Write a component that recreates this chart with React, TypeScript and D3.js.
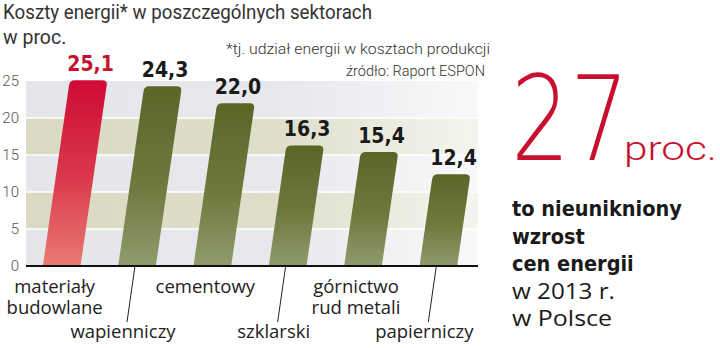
import React from 'react';
import * as d3 from 'd3';

// ---------- data ----------
const categories = ['materiały budowlane', 'wapienniczy', 'cementowy', 'szklarski', 'górnictwo rud metali', 'papierniczy'];
const values = [25.1, 24.3, 22.0, 16.3, 15.4, 12.4];
const highlighted = ['materiały budowlane'];
const labelLines = [['materiały', 'budowlane'], ['wapienniczy'], ['cementowy'], ['szklarski'], ['górnictwo', 'rud metali'], ['papierniczy']];
const labelLow = [false, true, false, true, false, true];
const yTicks = [0, 5, 10, 15, 20, 25];
const titleLines = ['Koszty energii* w poszczególnych sektorach', 'w proc.'];
const footnote = '*tj. udział energii w kosztach produkcji';
const source = 'źródło: Raport ESPON';
const bigNumber = '27';
const bigUnit = 'proc.';
const sideLines = ['to nieunikniony', 'wzrost', 'cen energii', 'w 2013 r.', 'w Polsce'];
const sideBold = [true, true, true, false, false];

// ---------- layout ----------
const W = 720, H = 348;
const plotL = 26, plotR = 478, y0 = 266, y25 = 81;
const slant = 0.145;
const RED = '#c8102e';
const DARK = '#222';
const condBold = "'DejaVu Sans Condensed', 'DejaVu Sans', sans-serif";
const sans = "Roboto, 'Open Sans', sans-serif";
const open = "'Open Sans', Roboto, sans-serif";

const pl = d3.formatLocale({ decimal: ',', thousands: ' ', grouping: [3], currency: ['', ' zł'] });
const fmt = pl.format('.1f');

function barPath(x0: number, w: number, yb: number, yt: number, k: number, r: number) {
  const s = (yb - yt) * k;
  const xl = x0 + s, xr = x0 + w + s;
  return `M${x0},${yb} L${xl - k * r},${yt + r} Q${xl},${yt} ${xl + r},${yt} L${xr - r},${yt} Q${xr},${yt} ${xr - k * r},${yt + r} L${x0 + w},${yb} Z`;
}

export default function App() {
  const x = d3.scaleBand<string>().domain(categories).range([24, 476]).paddingInner(0.5).paddingOuter(0.25);
  const y = d3.scaleLinear().domain([0, 25]).range([y0, y25]);
  const bw = x.bandwidth();

  const bands = d3.range(0, 5).map(i => ({ lo: yTicks[i], hi: yTicks[i + 1], tint: i % 2 === 1 }));

  return (
    <svg width={W} height={H} style={{ position: 'absolute', left: 0, top: 0, background: '#fff' }}>
      <defs>
        <linearGradient id="gRed" x1="0" y1="0" x2="0" y2="1">
          <stop offset="0" stopColor="#cf0b36" />
          <stop offset="0.5" stopColor="#d9364a" />
          <stop offset="1" stopColor="#ea7a72" />
        </linearGradient>
        <linearGradient id="gOlive" x1="0" y1="0" x2="0" y2="1">
          <stop offset="0" stopColor="#5a6628" />
          <stop offset="0.55" stopColor="#6e793e" />
          <stop offset="1" stopColor="#909a6c" />
        </linearGradient>
        <linearGradient id="gFade" x1="0" y1="0" x2="1" y2="0">
          <stop offset="0" stopColor="#fff" stopOpacity="0" />
          <stop offset="0.55" stopColor="#fff" stopOpacity="0.1" />
          <stop offset="1" stopColor="#fff" stopOpacity="0.75" />
        </linearGradient>
      </defs>

      {/* background bands */}
      {bands.map((b, i) => (
        <rect key={i} x={plotL} y={y(b.hi)} width={plotR - plotL} height={y(b.lo) - y(b.hi)}
          fill={b.tint ? '#dadac4' : '#e4e6ea'} />
      ))}
      <rect x={plotL} y={y(25)} width={plotR - plotL} height={y(0) - y(25)} fill="url(#gFade)" />
      {yTicks.filter(t => t > 0 && t < 25).map(t => (
        <line key={t} x1={plotL} x2={plotR} y1={y(t)} y2={y(t)} stroke="#fff" strokeWidth={1.6} />
      ))}

      {/* y tick labels */}
      {yTicks.map(t => (
        <text key={t} x={19} y={y(t)} dy="0.35em" textAnchor="end" fontFamily={sans} fontWeight={300}
          fontSize={15} fill="#555">{t}</text>
      ))}

      {/* bars */}
      {categories.map((c, i) => {
        const x0 = x(c)!;
        const yt = y(values[i]);
        const s = (y0 - yt) * slant;
        const hi = highlighted.includes(c);
        return (
          <g key={c}>
            <path d={barPath(x0, bw, y0, yt, slant, 5)} fill={hi ? 'url(#gRed)' : 'url(#gOlive)'} />
            <text x={x0 + bw / 2 + s + 2} y={yt - 9} textAnchor="middle" fontFamily={condBold}
              fontStretch="condensed" fontWeight="bold" fontSize={21} fill={hi ? RED : '#1a1a1a'}>
              {fmt(values[i])}
            </text>
          </g>
        );
      })}

      {/* baseline */}
      <line x1={plotL} x2={plotR} y1={y0} y2={y0} stroke="#111" strokeWidth={2} />

      {/* category labels */}
      {categories.map((c, i) => {
        const cx = x(c)! + bw / 2;
        if (labelLow[i]) {
          return (
            <g key={c}>
              <line x1={cx - 2} y1={y0} x2={cx - 10} y2={322} stroke="#222" strokeWidth={1} />
              <text x={cx - 14} y={338} textAnchor="middle" fontFamily={open} fontSize={18.5} fill={DARK}>
                {labelLines[i][0]}
              </text>
            </g>
          );
        }
        return (
          <text key={c} x={cx - 7} textAnchor="middle" fontFamily={open} fontSize={18.5} fill={DARK}>
            {labelLines[i].map((l, j) => (
              <tspan key={j} x={cx - 7} y={293 + j * 21}>{l}</tspan>
            ))}
          </text>
        );
      })}

      {/* title */}
      <text x={3} y={19} fontFamily={sans} fontSize={19.5} fill="#333" textLength={369} lengthAdjust="spacingAndGlyphs">
        {titleLines[0]}
      </text>
      <text x={3} y={44} fontFamily={sans} fontSize={19.5} fill="#333">{titleLines[1]}</text>

      {/* footnote & source */}
      <text x={490} y={54} textAnchor="end" fontFamily={sans} fontWeight={300} fontSize={14.5} fill="#333"
        textLength={264} lengthAdjust="spacingAndGlyphs">{footnote}</text>
      <text x={485} y={76} textAnchor="end" fontFamily={sans} fontWeight={300} fontSize={14.5} fill="#333">{source}</text>

      {/* right panel */}
      <text x={511} y={160} fontFamily={"'DejaVu Sans', sans-serif"} fontWeight={200} fontSize={118} fill={RED}
        textLength={118} lengthAdjust="spacingAndGlyphs">{bigNumber}</text>
      <text x={624} y={160} fontFamily={sans} fontWeight={300} fontSize={34} fill={RED}
        textLength={93} lengthAdjust="spacingAndGlyphs">{bigUnit}</text>
      {sideLines.map((l, i) => (
        <text key={i} x={512} y={216 + i * 27.5} fontFamily={sideBold[i] ? condBold : open}
          fontStretch={sideBold[i] ? 'condensed' : 'normal'} fontWeight={sideBold[i] ? 'bold' : 400}
          fontSize={sideBold[i] ? 21.5 : 21.5} fill="#1a1a1a"
          textLength={sideBold[i] ? undefined : (i === 3 ? 103 : 100)} lengthAdjust="spacingAndGlyphs">{l}</text>
      ))}
    </svg>
  );
}
